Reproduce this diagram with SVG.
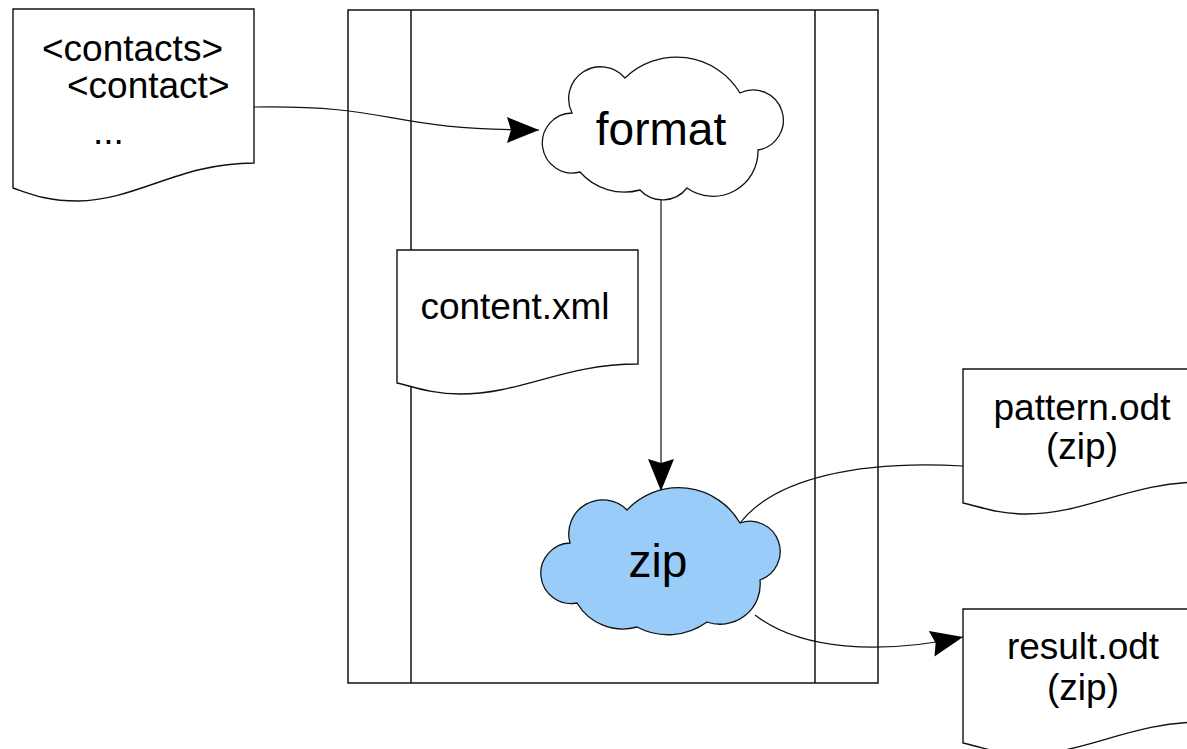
<svg xmlns="http://www.w3.org/2000/svg" width="1187" height="749" viewBox="0 0 1187 749">
  <style>
    .frame { fill: none; stroke: #111; stroke-width: 1.5; }
    .doc { fill: #ffffff; stroke: #111; stroke-width: 1.4; }
    .cloud { stroke: #111; stroke-width: 1.3; }
    .edge { fill: none; stroke: #111; stroke-width: 1.2; }
    .lbl { font-family: "Liberation Sans", Arial, sans-serif; font-size: 37px; fill: #000; }
    .big { font-size: 46px; text-anchor: middle; }
    .mid { text-anchor: middle; }
  </style>
  <defs>
    <marker id="arrow" markerUnits="userSpaceOnUse" markerWidth="34" markerHeight="28" refX="32" refY="13" orient="auto">
      <path d="M0,0 L32,13 L0,26 L4,13 Z" fill="#000"/>
    </marker>
  </defs>

  <rect width="1187" height="749" fill="#ffffff"/>

  <!-- container with two vertical swimlane dividers -->
  <g id="container">
    <rect class="frame" x="348" y="10" width="530" height="673"/>
    <line class="frame" x1="411" y1="10" x2="411" y2="683"/>
    <line class="frame" x1="815" y1="10" x2="815" y2="683"/>
  </g>

  <!-- connectors -->
  <g id="connectors">
    <path class="edge" d="M254,107 C400,105 380,130 539,130" marker-end="url(#arrow)"/>
    <path class="edge" d="M661,200 L661,491" marker-end="url(#arrow)"/>
    <path class="edge" d="M740,523 C775,478 860,460 963,466"/>
    <path class="edge" d="M755,615 C800,650 880,655 963,637" marker-end="url(#arrow)"/>
  </g>

  <!-- source XML document -->
  <g id="contacts">
    <path class="doc" d="M13,9 H254 V163 C179,163 138,200 78,201 C45,201 28,193 13,188 Z"/>
    <text class="lbl" x="42" y="61">&lt;contacts&gt;</text>
    <text class="lbl" x="67" y="98">&lt;contact&gt;</text>
    <text class="lbl" x="93" y="144">...</text>
  </g>

  <!-- format step -->
  <g id="format">
    <path class="cloud" fill="#ffffff" d="M572,113 A32,32 0 0 1 625,78 A74,74 0 0 1 740,93 A30.2,30.2 0 1 1 758,150 A45,45 0 0 1 687,188 A31,31 0 0 1 640,190 A59,59 0 0 1 580,172 A30,30 0 1 1 572,113 Z"/>
    <text class="lbl big" x="661" y="145">format</text>
  </g>

  <!-- intermediate document -->
  <g id="content">
    <path class="doc" d="M397,250 H638 V364 C563,364 522,394 460,394 C430,394 412,386 397,383 Z"/>
    <text class="lbl mid" x="515" y="319">content.xml</text>
  </g>

  <!-- zip step -->
  <g id="zip">
    <path class="cloud" fill="#99ccf8" d="M570,543 A34,34 0 0 1 627,510 A71,71 0 0 1 740,523 A30,30 0 0 1 760,580 A40,40 0 0 1 707,622 A66,66 0 0 1 637,627 A53,53 0 0 1 577,603 A30.3,30.3 0 1 1 570,543 Z"/>
    <text class="lbl big" x="658" y="577">zip</text>
  </g>

  <!-- template archive -->
  <g id="pattern">
    <path class="doc" d="M963,369 H1204 V482 C1129,482 1088,514 1026,514 C996,514 978,506 963,503 Z"/>
    <text class="lbl mid" x="1082" y="420">pattern.odt</text>
    <text class="lbl mid" x="1082" y="459">(zip)</text>
  </g>

  <!-- output archive -->
  <g id="result">
    <path class="doc" d="M963,609 H1204 V722 C1129,722 1088,754 1026,754 C996,754 978,746 963,743 Z"/>
    <text class="lbl mid" x="1083" y="659">result.odt</text>
    <text class="lbl mid" x="1083" y="700">(zip)</text>
  </g>
</svg>
